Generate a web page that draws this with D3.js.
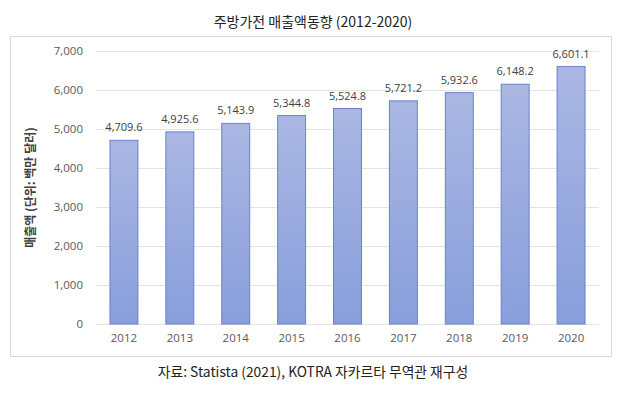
<!DOCTYPE html>
<html>
<head>
<meta charset="utf-8">
<script src="https://cdn.jsdelivr.net/npm/d3@7"></script>
<style>
  body { margin: 0; background: #fff; }
  svg { display: block; font-family: "Noto Sans CJK KR", "Noto Sans", sans-serif; }
</style>
</head>
<body>
<div id="chart"></div>
<script>
var years = ["2012", "2013", "2014", "2015", "2016", "2017", "2018", "2019", "2020"];
var sales = [4709.6, 4925.6, 5143.9, 5344.8, 5524.8, 5721.2, 5932.6, 6148.2, 6601.1];
var yTicks = [0, 1000, 2000, 3000, 4000, 5000, 6000, 7000];

var W = 626, H = 398;
var margin = {top: 51, right: 27, bottom: 74, left: 96},
    width = W - margin.left - margin.right,
    height = H - margin.top - margin.bottom;

var svg = d3.select("#chart").append("svg")
  .attr("width", W)
  .attr("height", H);

// gradient fill for bars
var grad = svg.append("defs").append("linearGradient")
  .attr("id", "barGrad")
  .attr("x1", 0).attr("y1", 0).attr("x2", 0).attr("y2", 1);
grad.append("stop").attr("offset", "0%").attr("stop-color", "#abb7e3");
grad.append("stop").attr("offset", "100%").attr("stop-color", "#889edb");

// title
svg.append("text")
  .attr("x", W / 2)
  .attr("y", 27)
  .attr("text-anchor", "middle")
  .style("font-size", "14px")
  .style("fill", "#222")
  .text("주방가전 매출액동향 (2012-2020)");

// chart frame
svg.append("rect")
  .attr("x", 10.5).attr("y", 36.5)
  .attr("width", 601).attr("height", 320)
  .attr("fill", "#fff")
  .attr("stroke", "#d9d9d9");

var g = svg.append("g")
  .attr("transform", "translate(" + margin.left + "," + margin.top + ")");

var x = d3.scaleBand().domain(years).range([0, width]).paddingInner(0.5).paddingOuter(0.25);
var y = d3.scaleLinear().domain([0, 7000]).range([height, 0]);

// gridlines
g.selectAll(".grid")
  .data(yTicks)
  .enter().append("line")
  .attr("x1", 0).attr("x2", width)
  .attr("y1", function(d) { return Math.round(y(d)) + 0.5; })
  .attr("y2", function(d) { return Math.round(y(d)) + 0.5; })
  .attr("stroke", "#e3e3e3");

// y axis
var yAxis = d3.axisLeft(y).tickValues(yTicks).tickSize(0).tickPadding(13)
  .tickFormat(d3.format(","));
g.append("g").call(yAxis)
  .call(function(s) { s.select(".domain").remove(); })
  .selectAll("text")
  .style("font-size", "11.5px")
  .style("fill", "#595959")
  .style("font-family", "\"Open Sans\", \"Noto Sans\", sans-serif");

// x axis
var xAxis = d3.axisBottom(x).tickSize(0).tickPadding(10);
g.append("g")
  .attr("transform", "translate(0," + height + ")")
  .call(xAxis)
  .call(function(s) { s.select(".domain").remove(); })
  .selectAll("text")
  .style("font-size", "11.5px")
  .style("fill", "#595959")
  .style("font-family", "\"Open Sans\", \"Noto Sans\", sans-serif");

// bars
g.selectAll(".bar")
  .data(sales)
  .enter().append("rect")
  .attr("class", "bar")
  .attr("x", function(d, i) { return x(years[i]); })
  .attr("width", x.bandwidth())
  .attr("y", function(d) { return y(d); })
  .attr("height", function(d) { return height - y(d); })
  .attr("fill", "url(#barGrad)")
  .attr("stroke", "#6b80c9")
  .attr("stroke-width", 1);

// value labels
g.selectAll(".val")
  .data(sales)
  .enter().append("text")
  .attr("x", function(d, i) { return x(years[i]) + x.bandwidth() / 2; })
  .attr("y", function(d) { return y(d) - 9; })
  .attr("text-anchor", "middle")
  .style("font-size", "11px")
  .style("fill", "#404040")
  .style("font-family", "\"Open Sans\", \"Noto Sans\", sans-serif")
  .text(function(d) { return d3.format(",.1f")(d); });

// y axis title
svg.append("text")
  .attr("transform", "translate(35," + (margin.top + height / 2) + ") rotate(-90)")
  .attr("text-anchor", "middle")
  .style("font-size", "12px")
  .style("font-weight", "bold")
  .style("fill", "#404040")
  .text("매출액 (단위: 백만 달러)");

// source
svg.append("text")
  .attr("x", W / 2)
  .attr("y", 377)
  .attr("text-anchor", "middle")
  .style("font-size", "13.8px")
  .style("fill", "#222")
  .text("자료: Statista (2021), KOTRA 자카르타 무역관 재구성");
</script>
</body>
</html>
